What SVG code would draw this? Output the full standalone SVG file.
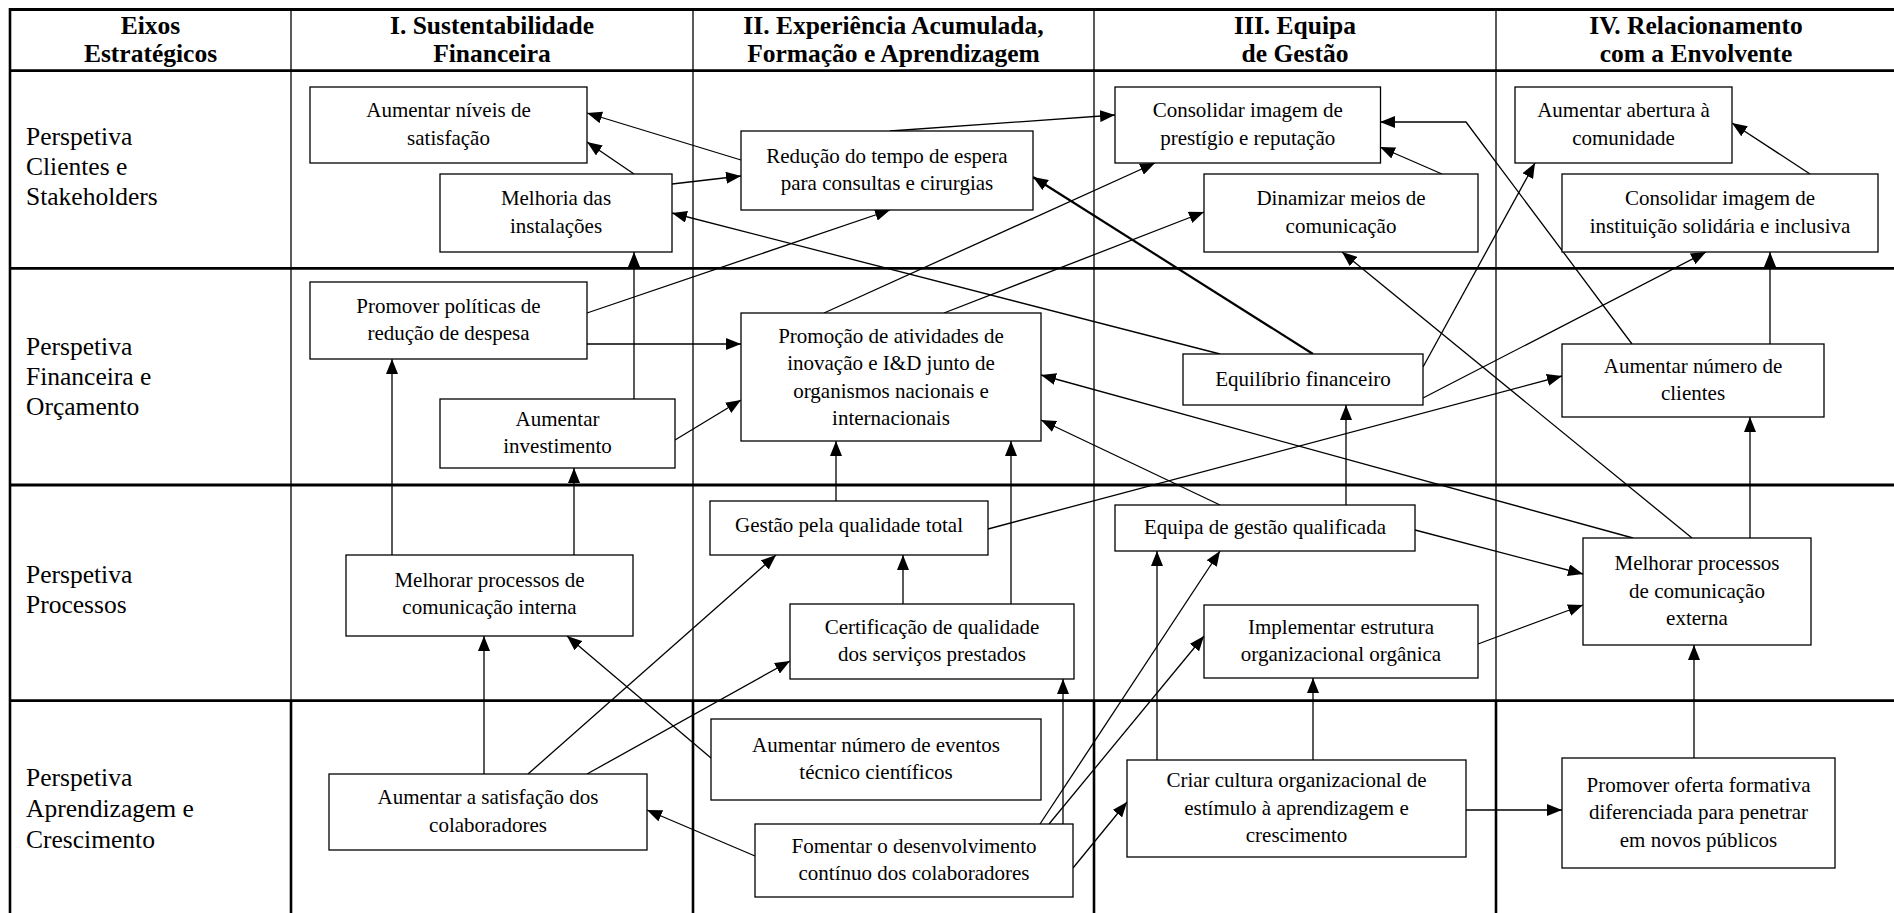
<svg xmlns="http://www.w3.org/2000/svg" width="1894" height="913" viewBox="0 0 1894 913">
<style>
.bg{fill:#fff}
.gh{stroke:#000;stroke-width:2.8;fill:none}
.gv{stroke:#000;stroke-width:1.3;fill:none}
.gvb{stroke:#000;stroke-width:2.6;fill:none}
.hdr{font-family:"Liberation Serif","Times New Roman",serif;font-weight:bold;font-size:25.5px;text-anchor:middle;fill:#000}
.lbl{font-family:"Liberation Serif","Times New Roman",serif;font-size:25.5px;fill:#000}
.node rect{fill:#fff;stroke:#000;stroke-width:1.3}
.node text{font-family:"Liberation Serif","Times New Roman",serif;font-size:21px;text-anchor:middle;fill:#000}
#connectors line,#connectors polyline{stroke:#000;stroke-width:1.3;fill:none;marker-end:url(#arr)}
#connectors .thick{stroke-width:2.2}
</style>
<defs>
<marker id="arr" markerUnits="userSpaceOnUse" markerWidth="15" markerHeight="12" refX="15" refY="6" orient="auto">
<path d="M0,0 L15,6 L0,12 z" fill="#000"/>
</marker>
</defs>
<rect class="bg" x="0" y="0" width="1894" height="913"/>
<g id="grid">
<line class="gh" x1="10" y1="9.5" x2="1894" y2="9.5"/>
<line class="gh" x1="10" y1="70.7" x2="1894" y2="70.7"/>
<line class="gh" x1="10" y1="268.3" x2="1894" y2="268.3"/>
<line class="gh" x1="10" y1="485" x2="1894" y2="485"/>
<line class="gh" x1="10" y1="700.7" x2="1894" y2="700.7"/>
<line class="gvb" x1="10" y1="8" x2="10" y2="913"/>
<line class="gv" x1="291" y1="9" x2="291" y2="701"/>
<line class="gv" x1="693" y1="9" x2="693" y2="701"/>
<line class="gv" x1="1094" y1="9" x2="1094" y2="701"/>
<line class="gv" x1="1496" y1="9" x2="1496" y2="701"/>
<line class="gvb" x1="291" y1="701" x2="291" y2="913"/>
<line class="gvb" x1="693" y1="701" x2="693" y2="913"/>
<line class="gvb" x1="1094" y1="701" x2="1094" y2="913"/>
<line class="gvb" x1="1496" y1="701" x2="1496" y2="913"/>
</g>
<g id="headers">
<text class="hdr" x="150.5" y="34">Eixos</text>
<text class="hdr" x="150.5" y="62">Estratégicos</text>
<text class="hdr" x="492" y="34">I. Sustentabilidade</text>
<text class="hdr" x="492" y="62">Financeira</text>
<text class="hdr" x="893.5" y="34">II. Experiência Acumulada,</text>
<text class="hdr" x="893.5" y="62">Formação e Aprendizagem</text>
<text class="hdr" x="1295" y="34">III. Equipa</text>
<text class="hdr" x="1295" y="62">de Gestão</text>
<text class="hdr" x="1696" y="34">IV. Relacionamento</text>
<text class="hdr" x="1696" y="62">com a Envolvente</text>
</g>
<g id="row-labels">
<text class="lbl" x="26" y="145">Perspetiva</text>
<text class="lbl" x="26" y="175">Clientes e</text>
<text class="lbl" x="26" y="205">Stakeholders</text>
<text class="lbl" x="26" y="355">Perspetiva</text>
<text class="lbl" x="26" y="385">Financeira e</text>
<text class="lbl" x="26" y="415">Orçamento</text>
<text class="lbl" x="26" y="583">Perspetiva</text>
<text class="lbl" x="26" y="613">Processos</text>
<text class="lbl" x="26" y="786">Perspetiva</text>
<text class="lbl" x="26" y="817">Aprendizagem e</text>
<text class="lbl" x="26" y="848">Crescimento</text>
</g>
<g id="connectors">
<line x1="741" y1="160" x2="587" y2="113"/>
<line x1="634" y1="174" x2="587" y2="142"/>
<line x1="672" y1="184" x2="741" y2="176"/>
<line x1="1220" y1="354" x2="672" y2="213"/>
<line x1="587" y1="313" x2="890" y2="210"/>
<line x1="587" y1="344" x2="741" y2="344"/>
<line x1="634" y1="399" x2="634" y2="252"/>
<line x1="675" y1="440" x2="741" y2="400"/>
<line x1="824" y1="313" x2="1155" y2="163"/>
<line x1="944" y1="313" x2="1204" y2="212"/>
<line x1="890" y1="131" x2="1115" y2="115"/>
<line x1="1442" y1="174" x2="1380" y2="147"/>
<line class="thick" x1="1313" y1="354" x2="1033" y2="177"/>
<polyline points="1632,344 1466,122 1380,122"/>
<line x1="1423" y1="367" x2="1535" y2="163"/>
<line x1="1810" y1="174" x2="1732" y2="123"/>
<line x1="1423" y1="398" x2="1706" y2="252"/>
<line x1="1770" y1="344" x2="1770" y2="252"/>
<line x1="988" y1="529" x2="1562" y2="376"/>
<line x1="1220" y1="505" x2="1041" y2="420"/>
<line x1="1633" y1="538" x2="1041" y2="375"/>
<line x1="1692" y1="538" x2="1342" y2="252"/>
<line x1="1415" y1="530" x2="1583" y2="574"/>
<line x1="1478" y1="644" x2="1583" y2="605"/>
<line x1="1694" y1="758" x2="1694" y2="645"/>
<line x1="1466" y1="810" x2="1562" y2="810"/>
<line x1="1750" y1="538" x2="1750" y2="417"/>
<line x1="1346" y1="505" x2="1346" y2="405"/>
<line x1="1313" y1="760" x2="1313" y2="678"/>
<line x1="1157" y1="760" x2="1157" y2="551"/>
<line x1="1040" y1="824" x2="1220" y2="551"/>
<line x1="1049" y1="824" x2="1204" y2="636"/>
<line x1="1063" y1="824" x2="1063" y2="679"/>
<line x1="1073" y1="868" x2="1127" y2="802"/>
<line x1="755" y1="856" x2="647" y2="810"/>
<line x1="711" y1="758" x2="567" y2="636"/>
<line x1="484" y1="774" x2="484" y2="636"/>
<line x1="528" y1="774" x2="776" y2="555"/>
<line x1="587" y1="774" x2="790" y2="661"/>
<line x1="392" y1="555" x2="392" y2="359"/>
<line x1="574" y1="555" x2="574" y2="468"/>
<line x1="836" y1="501" x2="836" y2="441"/>
<line x1="1011" y1="604" x2="1011" y2="441"/>
<line x1="903" y1="604" x2="903" y2="555"/>
</g>
<g id="n1" class="node"><rect x="310" y="87" width="277" height="76"/><text x="448.5" y="117.25">Aumentar níveis de</text><text x="448.5" y="144.75">satisfação</text></g>
<g id="n2" class="node"><rect x="440" y="174" width="232" height="78"/><text x="556" y="205.25">Melhoria das</text><text x="556" y="232.75">instalações</text></g>
<g id="n3" class="node"><rect x="741" y="131" width="292" height="79"/><text x="887" y="162.75">Redução do tempo de espera</text><text x="887" y="190.25">para consultas e cirurgias</text></g>
<g id="n4" class="node"><rect x="1115" y="87" width="265.5" height="76"/><text x="1247.75" y="117.25">Consolidar imagem de</text><text x="1247.75" y="144.75">prestígio e reputação</text></g>
<g id="n5" class="node"><rect x="1204" y="174" width="274" height="78"/><text x="1341" y="205.25">Dinamizar meios de</text><text x="1341" y="232.75">comunicação</text></g>
<g id="n6" class="node"><rect x="1515" y="87" width="217" height="76"/><text x="1623.5" y="117.25">Aumentar abertura à</text><text x="1623.5" y="144.75">comunidade</text></g>
<g id="n7" class="node"><rect x="1562" y="174" width="316" height="78"/><text x="1720" y="205.25">Consolidar imagem de</text><text x="1720" y="232.75">instituição solidária e inclusiva</text></g>
<g id="n8" class="node"><rect x="310" y="282" width="277" height="77"/><text x="448.5" y="312.75">Promover políticas de</text><text x="448.5" y="340.25">redução de despesa</text></g>
<g id="n9" class="node"><rect x="440" y="399" width="235" height="69"/><text x="557.5" y="425.75">Aumentar</text><text x="557.5" y="453.25">investimento</text></g>
<g id="n10" class="node"><rect x="741" y="313" width="300" height="128"/><text x="891" y="342.5">Promoção de atividades de</text><text x="891" y="370">inovação e I&amp;D junto de</text><text x="891" y="397.5">organismos nacionais e</text><text x="891" y="425">internacionais</text></g>
<g id="n11" class="node"><rect x="1183" y="354" width="240" height="51"/><text x="1303" y="385.5">Equilíbrio financeiro</text></g>
<g id="n12" class="node"><rect x="1562" y="344" width="262" height="73"/><text x="1693" y="372.75">Aumentar número de</text><text x="1693" y="400.25">clientes</text></g>
<g id="n13" class="node"><rect x="346" y="555" width="287" height="81"/><text x="489.5" y="586.5">Melhorar processos de</text><text x="489.5" y="614">comunicação interna</text></g>
<g id="n14" class="node"><rect x="329" y="774" width="318" height="76"/><text x="488" y="804.25">Aumentar a satisfação dos</text><text x="488" y="831.75">colaboradores</text></g>
<g id="n15" class="node"><rect x="710" y="501" width="278" height="54"/><text x="849" y="532">Gestão pela qualidade total</text></g>
<g id="n16" class="node"><rect x="790" y="604" width="284" height="75"/><text x="932" y="633.75">Certificação de qualidade</text><text x="932" y="661.25">dos serviços prestados</text></g>
<g id="n17" class="node"><rect x="711" y="719" width="330" height="81"/><text x="876" y="751.75">Aumentar número de eventos</text><text x="876" y="779.25">técnico científicos</text></g>
<g id="n18" class="node"><rect x="755" y="824" width="318" height="73"/><text x="914" y="852.75">Fomentar o desenvolvimento</text><text x="914" y="880.25">contínuo dos colaboradores</text></g>
<g id="n19" class="node"><rect x="1115" y="505" width="300" height="46"/><text x="1265" y="534">Equipa de gestão qualificada</text></g>
<g id="n20" class="node"><rect x="1204" y="605" width="274" height="73"/><text x="1341" y="633.75">Implementar estrutura</text><text x="1341" y="661.25">organizacional orgânica</text></g>
<g id="n21" class="node"><rect x="1127" y="760" width="339" height="97"/><text x="1296.5" y="787">Criar cultura organizacional de</text><text x="1296.5" y="814.5">estímulo à aprendizagem e</text><text x="1296.5" y="842">crescimento</text></g>
<g id="n22" class="node"><rect x="1583" y="538" width="228" height="107"/><text x="1697" y="570">Melhorar processos</text><text x="1697" y="597.5">de comunicação</text><text x="1697" y="625">externa</text></g>
<g id="n23" class="node"><rect x="1562" y="758" width="273" height="110"/><text x="1698.5" y="791.5">Promover oferta formativa</text><text x="1698.5" y="819">diferenciada para penetrar</text><text x="1698.5" y="846.5">em novos públicos</text></g>
</svg>
